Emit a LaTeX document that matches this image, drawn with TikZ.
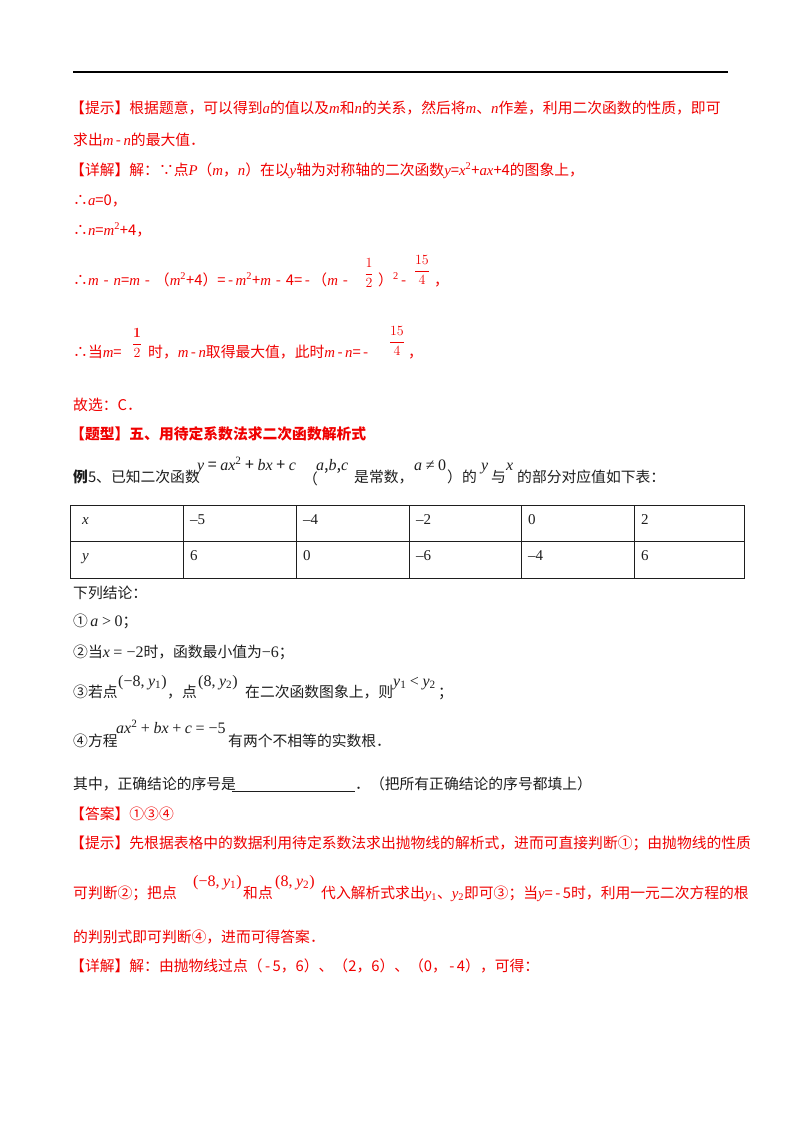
\RequirePackage{fix-cm}
\documentclass[tikz,border=0pt]{standalone}
\usepackage{amsmath}
\usepackage[no-math]{fontspec}
\setmainfont{Noto Sans CJK SC}
\newfontfamily\lib{Liberation Serif}
\definecolor{rd}{RGB}{240,0,0}
\definecolor{tx}{RGB}{30,30,30}
\newcommand\vi[1]{{\lib\itshape #1}}
\newcommand\vr[1]{{\lib #1}}
\newcommand\sbs[1]{\textsubscript{\lib #1}}
\newcommand\sps[1]{\textsuperscript{\lib #1}}
\begin{document}
\begin{tikzpicture}[x=1pt,y=-1pt,
 t/.style={anchor=base west,inner sep=0pt,font=\fontsize{14.8}{16}\selectfont},
 r/.style={t,text=rd},
 k/.style={t,text=tx},
 m/.style={k,font=\fontsize{16}{18}\selectfont},
 fr/.style={anchor=center,inner sep=0pt,font=\fontsize{14}{16}\selectfont}]
\useasboundingbox (0,0) rectangle (800,1132);
\fill[white] (0,0) rectangle (800,1132);
\draw[line width=1.8pt] (73,72) -- (728,72);
% hints
\node[r] (l1) at (70,113) {【提示】根据题意，可以得到\vi{a}的值以及\vi{m}和\vi{n}的关系，然后将\vi{m}、\vi{n}作差，利用二次函数的性质，即可};
\node[r] (l2) at (73,145) {求出\vi{m}\,-\,\vi{n}的最大值．};
\node[r] (l3) at (70,175) {【详解】解：∵点\vi{P}（\vi{m}，\vi{n}）在以\vi{y}轴为对称轴的二次函数\vi{y}=\vi{x}\sps{2}+\vi{ax}+4的图象上，};
\node[r] (l4) at (73,205) {∴\vi{a}=0，};
\node[r] (l5) at (73,235) {∴\vi{n}=\vi{m}\sps{2}+4，};
\node[r] (l6) at (73,285) {∴\vi{m}\,\,-\,\,\vi{n}=\vi{m}\,\,-\,\,（\vi{m}\sps{2}+4）=\,-\,\vi{m}\sps{2}+\vi{m}\,\,-\,\,4=\,-\,（\vi{m}\,\,-};
\node[fr,text=rd] (f1) at (369,273) {$\dfrac{1}{2}$};
\node[r] (l6b) at (378,285) {）\sps{2}\,-};
\node[fr,text=rd] (f2) at (422,270) {$\dfrac{15}{4}$};
\node[r] (l6c) at (434,285) {，};
\node[r] (l7) at (73,357) {∴当\vi{m}=};
\node[fr,text=rd] (f3) at (137,343) {$\dfrac{\mathbf 1}{2}$};
\node[r] (l7b) at (148,357) {时，\vi{m}\,-\,\vi{n}取得最大值，此时\vi{m}\,-\,\vi{n}=\,-};
\node[fr,text=rd] (f4) at (397,341) {$\dfrac{15}{4}$};
\node[r] (l7c) at (408,357) {，};
\node[r] (l8) at (73,410) {故选：C．};
\node[r,font=\fontsize{14.8}{16}\selectfont\bfseries] (l9) at (70,439) {【题型】五、用待定系数法求二次函数解析式};
% example
\node[k] (e1) at (73,482) {\textbf{例}5、已知二次函数};
\node[m] (e2) at (197,470) {\vi{y} = \vi{ax}\sps{2} + \vi{bx} + \vi{c}};
\node[k] (e3) at (303,484) {（};
\node[m] (e4) at (316,470) {\vi{a},\vi{b},\vi{c}};
\node[k] (e5) at (354,482) {是常数，};
\node[m] (e6) at (414,470) {\vi{a} \vr{≠} \vr{0}};
\node[k] (e7) at (447,482) {）的};
\node[m] (e8) at (481,470) {\vi{y}};
\node[k] (e9) at (491,482) {与};
\node[m] (e10) at (506,470) {\vi{x}};
\node[k] (e11) at (517,482) {的部分对应值如下表：};
% table
\draw[line width=1pt,tx] (70,505) rectangle (744,578);
\draw[line width=1pt,tx] (70,541) -- (744,541);
\foreach \xx in {183,296,409,521,634}{\draw[line width=1pt,tx] (\xx,505) -- (\xx,578);}
\foreach \xx/\a/\b [count=\i] in {82/\vi{x}/\vi{y},190/–5/6,303/–4/0,416/–2/–6,528/0/–4,641/2/6}{
 \node[k,font=\fontsize{15}{15}\selectfont\lib] (ta\i) at (\xx,524) {\a};
 \node[k,font=\fontsize{15}{15}\selectfont\lib] (tb\i) at (\xx,560) {\b};}
\node[k] (c0) at (73,598) {下列结论：};
\node[k] (c1) at (73,626) {①\,{\fontsize{16}{18}\selectfont\vi{a} \vr{>} \vr{0}}；};
\node[k] (c2) at (73,657) {②当{\fontsize{16}{18}\selectfont\vi{x} \vr{= −2}}时，函数最小值为{\fontsize{16}{18}\selectfont\vr{−6}}；};
\node[k] (c3) at (73,697) {③若点};
\node[m] (c3b) at (118,686) {\vr{(−8,} \vi{y}\sbs{1}\vr{)}};
\node[k] (c3c) at (167,697) {，点};
\node[m] (c3d) at (198,686) {\vr{(8,} \vi{y}\sbs{2}\vr{)}};
\node[k] (c3e) at (245,697) {在二次函数图象上，则};
\node[m] (c3f) at (393,686) {\vi{y}\sbs{1} \vr{<} \vi{y}\sbs{2}};
\node[k] (c3g) at (438,697) {；};
\node[k] (c4) at (73,746) {④方程};
\node[m] (c4b) at (116,733) {\vi{ax}\sps{2} \vr{+} \vi{bx} \vr{+} \vi{c} \vr{= −5}};
\node[k] (c4c) at (228,746) {有两个不相等的实数根．};
\node[k] (q1) at (73,789) {其中，正确结论的序号是};
\draw[tx,line width=0.8pt] (232,791) -- (355,791);
\node[k] (q2) at (355,789) {．（把所有正确结论的序号都填上）};
\node[r] (a1) at (70,819) {【答案】①③④};
\node[r] (a2) at (70,848) {【提示】先根据表格中的数据利用待定系数法求出抛物线的解析式，进而可直接判断①；由抛物线的性质};
\node[r] (a3) at (73,898) {可判断②；把点};
\node[m,text=rd] (a3b) at (193,886) {\vr{(−8,} \vi{y}\sbs{1}\vr{)}};
\node[r] (a3c) at (243,898) {和点};
\node[m,text=rd] (a3d) at (275,886) {\vr{(8,} \vi{y}\sbs{2}\vr{)}};
\node[r] (a3e) at (321,898) {代入解析式求出\vi{y}\sbs{1}、\vi{y}\sbs{2}即可③；当\vi{y}=\,-\,5时，利用一元二次方程的根};
\node[r] (a4) at (73,942) {的判别式即可判断④，进而可得答案．};
\node[r] (a5) at (70,971) {【详解】解：由抛物线过点（\,-\,5，6）、（2，6）、（0，\,-\,4），可得：};
\end{tikzpicture}
\end{document}
